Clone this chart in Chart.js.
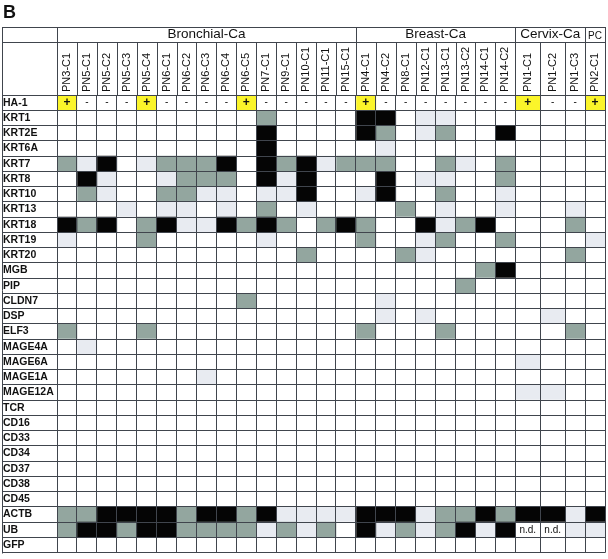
<!DOCTYPE html>
<html>
<head>
<meta charset="utf-8">
<script src="https://cdn.jsdelivr.net/npm/chart.js@4.4.0/dist/chart.umd.min.js"></script>
<style>
  html, body { margin: 0; padding: 0; background: #fff; }
  #wrap { width: 608px; height: 559px; }
</style>
</head>
<body>
<div id="wrap"><canvas id="chart" width="608" height="559"></canvas></div>
<script>
// samples (columns) and tumour groups
const samples = ['PN3-C1', 'PN5-C1', 'PN5-C2', 'PN5-C3', 'PN5-C4', 'PN6-C1', 'PN6-C2', 'PN6-C3', 'PN6-C4', 'PN6-C5',
  'PN7-C1', 'PN9-C1', 'PN10-C1', 'PN11-C1', 'PN15-C1',
  'PN4-C1', 'PN4-C2', 'PN8-C1', 'PN12-C1', 'PN13-C1', 'PN13-C2', 'PN14-C1', 'PN14-C2',
  'PN1-C1', 'PN1-C2', 'PN1-C3', 'PN2-C1'];
const groups = ['Bronchial-Ca', 'Breast-Ca', 'Cervix-Ca', 'PC'];
const groupSizes = [15, 8, 3, 1];

// HA-1: 1 = "+", 0 = "-"
const ha1 = [1, 0, 0, 0, 1, 0, 0, 0, 0, 1, 0, 0, 0, 0, 0, 1, 0, 0, 0, 0, 0, 0, 0, 1, 0, 0, 1];

const genes = ['KRT1', 'KRT2E', 'KRT6A', 'KRT7', 'KRT8', 'KRT10', 'KRT13', 'KRT18', 'KRT19', 'KRT20',
  'MGB', 'PIP', 'CLDN7', 'DSP', 'ELF3', 'MAGE4A', 'MAGE6A', 'MAGE1A', 'MAGE12A',
  'TCR', 'CD16', 'CD33', 'CD34', 'CD37', 'CD38', 'CD45', 'ACTB', 'UB', 'GFP'];

// expression level: 0 none, 1 weak, 2 medium, 3 strong, null = n.d.
const krt1   = [0,0,0,0,0,0,0,0,0,0,2,0,0,0,0, 3,3,0,1,1,0,0,0, 0,0,0, 0];
const krt2e  = [0,0,0,0,0,0,0,0,0,0,3,0,0,0,0, 3,2,0,1,2,0,0,3, 0,0,0, 0];
const krt6a  = [0,0,0,0,0,0,0,0,0,0,3,0,0,0,0, 0,1,0,0,0,0,0,0, 0,0,0, 0];
const krt7   = [2,1,3,0,1,2,2,2,3,0,3,2,3,1,2, 2,2,0,0,2,1,0,2, 0,0,0, 0];
const krt8   = [0,3,1,0,0,1,2,2,2,0,3,1,3,0,0, 0,3,0,1,1,0,0,2, 0,0,0, 0];
const krt10  = [0,2,1,0,0,2,2,1,1,0,1,1,3,0,0, 1,3,0,0,2,0,0,1, 0,0,0, 0];
const krt13  = [0,0,0,1,0,1,1,0,1,0,2,0,1,0,0, 0,0,2,0,1,0,0,1, 0,0,1, 0];
const krt18  = [3,2,3,0,2,3,1,1,3,2,3,2,0,2,3, 2,0,0,3,1,2,3,0, 0,0,2, 0];
const krt19  = [1,0,0,0,2,0,0,0,0,0,1,0,0,0,0, 2,0,0,1,2,0,0,2, 0,0,0, 1];
const krt20  = [0,0,0,0,0,0,0,0,0,0,0,0,2,0,0, 0,0,2,1,0,0,0,0, 0,0,2, 0];
const mgb    = [0,0,0,0,0,0,0,0,0,0,0,0,0,0,0, 0,0,0,0,0,0,2,3, 0,0,0, 0];
const pip    = [0,0,0,0,0,0,0,0,0,0,0,0,0,0,0, 0,0,0,0,0,2,0,0, 0,0,0, 0];
const cldn7  = [0,0,0,0,0,0,0,0,0,2,0,0,0,0,0, 0,1,0,0,0,0,0,0, 0,0,0, 0];
const dsp    = [0,0,0,0,0,0,0,0,0,0,0,0,0,0,0, 0,1,0,1,0,0,0,0, 0,1,0, 0];
const elf3   = [2,0,0,0,2,0,0,0,0,0,0,0,0,0,0, 2,0,0,0,2,0,0,0, 0,0,2, 0];
const mage4a = [0,1,0,0,0,0,0,0,0,0,0,0,0,0,0, 0,0,0,0,0,0,0,0, 0,0,0, 0];
const mage6a = [0,0,0,0,0,0,0,0,0,0,0,0,0,0,0, 0,0,0,0,0,0,0,0, 1,0,0, 0];
const mage1a = [0,0,0,0,0,0,0,1,0,0,0,0,0,0,0, 0,0,0,0,0,0,0,0, 0,0,0, 0];
const mage12a= [0,0,0,0,0,0,0,0,0,0,0,0,0,0,0, 0,0,0,0,0,0,0,0, 1,1,0, 0];
const tcr    = [0,0,0,0,0,0,0,0,0,0,0,0,0,0,0, 0,0,0,0,0,0,0,0, 0,0,0, 0];
const cd16   = [0,0,0,0,0,0,0,0,0,0,0,0,0,0,0, 0,0,0,0,0,0,0,0, 0,0,0, 0];
const cd33   = [0,0,0,0,0,0,0,0,0,0,0,0,0,0,0, 0,0,0,0,0,0,0,0, 0,0,0, 0];
const cd34   = [0,0,0,0,0,0,0,0,0,0,0,0,0,0,0, 0,0,0,0,0,0,0,0, 0,0,0, 0];
const cd37   = [0,0,0,0,0,0,0,0,0,0,0,0,0,0,0, 0,0,0,0,0,0,0,0, 0,0,0, 0];
const cd38   = [0,0,0,0,0,0,0,0,0,0,0,0,0,0,0, 0,0,0,0,0,0,0,0, 0,0,0, 0];
const cd45   = [0,0,0,0,0,0,0,0,0,0,0,0,0,0,0, 0,0,0,0,0,0,0,0, 0,0,0, 0];
const actb   = [2,2,3,3,3,3,2,3,3,2,3,1,1,1,1, 3,3,3,1,2,2,3,2, 3,3,1, 3];
const ub     = [2,3,3,2,3,3,2,2,2,2,1,2,1,2,0, 3,1,2,1,2,3,1,3, null,null,1, 1];
const gfp    = [0,0,0,0,0,0,0,0,0,0,0,0,0,0,0, 0,0,0,0,0,0,0,0, 0,0,0, 0];

const levels = [krt1, krt2e, krt6a, krt7, krt8, krt10, krt13, krt18, krt19, krt20,
  mgb, pip, cldn7, dsp, elf3, mage4a, mage6a, mage1a, mage12a,
  tcr, cd16, cd33, cd34, cd37, cd38, cd45, actb, ub, gfp];

// layout: column widths (cervix columns are a bit wider)
const colWidths = Array(23).fill(20).concat([25, 25, 20, 20]);
const edges = [0];
colWidths.forEach(w => edges.push(edges[edges.length - 1] + w));
const total = edges[edges.length - 1];
const centers = colWidths.map((w, i) => edges[i] + w / 2);
let acc = 0;
const groupCols = groupSizes.map(n => { const s = acc; acc += n; return [s, acc]; });
const groupCenters = groupCols.map(([a, b]) => (edges[a] + edges[b]) / 2);
const groupBounds = [0].concat(groupCols.map(([a, b]) => edges[b]));

const levelColors = ['#ffffff', '#e8ebf1', '#93a69f', '#050505'];
const yellow = '#fbf52a';
const lineColor = '#40454d';
const rowLabels = ['HA-1'].concat(genes);
const sampleFont = 11;

Chart.defaults.font.family = '"Liberation Sans", Arial, sans-serif';
Chart.defaults.color = '#111';

const datasets = samples.map((s, c) => ({
  label: s,
  data: rowLabels.map(() => [edges[c], edges[c + 1]]),
  backgroundColor: rowLabels.map((g, r) => {
    if (r === 0) return ha1[c] ? yellow : '#ffffff';
    const v = levels[r - 1][c];
    return v == null ? '#ffffff' : levelColors[v];
  }),
  borderWidth: 0,
  grouped: false,
  barPercentage: 1,
  categoryPercentage: 1
}));

const cellText = {
  id: 'cellText',
  afterDatasetsDraw(chart) {
    const { ctx, scales: { x, y } } = chart;
    ctx.save();
    ctx.fillStyle = '#111';
    ctx.textAlign = 'center';
    ctx.textBaseline = 'middle';
    const yHa = y.getPixelForValue(0);
    ha1.forEach((v, c) => {
      const cx = x.getPixelForValue(centers[c]);
      ctx.font = v ? 'bold 12px "Liberation Sans", Arial' : '10px "Liberation Sans", Arial';
      ctx.fillText(v ? '+' : '-', cx, yHa);
    });
    ctx.font = '10px "Liberation Sans", Arial';
    levels.forEach((row, r) => {
      row.forEach((v, c) => {
        if (v == null) ctx.fillText('n.d.', x.getPixelForValue(centers[c]), y.getPixelForValue(r + 1));
      });
    });
    ctx.restore();
  }
};

const headerLines = {
  id: 'headerLines',
  afterDraw(chart) {
    const { ctx, chartArea, scales: { x, xGroup } } = chart;
    const a = v => Math.round(v) + 0.5;
    ctx.save();
    ctx.strokeStyle = lineColor;
    ctx.lineWidth = 1;
    ctx.beginPath();
    const left = 2;
    [xGroup.top, xGroup.bottom].forEach(yy => {
      ctx.moveTo(left, a(yy));
      ctx.lineTo(x.getPixelForValue(total) + 1, a(yy));
    });
    ctx.moveTo(a(left), a(xGroup.top));
    ctx.lineTo(a(left), a(chartArea.bottom));
    edges.forEach(e => {
      const px = a(x.getPixelForValue(e));
      ctx.moveTo(px, a(xGroup.bottom));
      ctx.lineTo(px, a(chartArea.top));
    });
    groupBounds.forEach(e => {
      const px = a(x.getPixelForValue(e));
      ctx.moveTo(px, a(xGroup.top));
      ctx.lineTo(px, a(xGroup.bottom));
    });
    ctx.stroke();
    ctx.restore();
  }
};

const xTicks = edges.concat(centers).sort((p, q) => p - q);

new Chart(document.getElementById('chart'), {
  type: 'bar',
  data: { labels: rowLabels, datasets },
  options: {
    indexAxis: 'y',
    responsive: false,
    animation: false,
    events: [],
    layout: { padding: { left: 3, right: 0, top: 0, bottom: 1 } },
    plugins: {
      legend: { display: false },
      tooltip: { enabled: false },
      title: {
        display: true,
        text: 'B',
        align: 'start',
        font: { size: 18, weight: 'bold' },
        color: '#111',
        padding: { top: 2, bottom: 3.4 }
      }
    },
    scales: {
      x: {
        type: 'linear',
        position: 'top',
        min: 0,
        max: total,
        afterBuildTicks: s => { s.ticks = xTicks.map(v => ({ value: v })); },
        afterFit: s => { s.height = 53; },
        grid: {
          z: 1,
          color: ctx => (ctx.tick && edges.includes(ctx.tick.value)) ? lineColor : 'rgba(0,0,0,0)',
          drawTicks: false,
          lineWidth: 1
        },
        border: { display: true, color: lineColor, z: 1 },
        ticks: {
          autoSkip: false,
          minRotation: 90,
          maxRotation: 90,
          padding: 3,
          labelOffset: sampleFont * 1.2,
          font: { size: sampleFont },
          color: '#111',
          callback: v => { const i = centers.indexOf(v); return i >= 0 ? samples[i] : ''; }
        }
      },
      xGroup: {
        type: 'linear',
        position: 'top',
        weight: 10,
        min: 0,
        max: total,
        afterBuildTicks: s => { s.ticks = groupCenters.map(v => ({ value: v })); },
        afterFit: s => { s.height = 15; },
        grid: { display: false, drawTicks: false },
        border: { display: false },
        ticks: {
          autoSkip: false,
          minRotation: 0,
          maxRotation: 0,
          padding: 0,
          color: '#111',
          font: ctx => ({ size: (ctx.tick && ctx.tick.value === groupCenters[3]) ? 10 : 13.5 }),
          callback: v => groups[groupCenters.indexOf(v)]
        }
      },
      y: {
        type: 'category',
        position: 'left',
        afterFit: s => { s.width = 54; },
        grid: { z: 1, color: lineColor, tickLength: 55, offset: true, lineWidth: 1 },
        border: { display: false },
        ticks: {
          autoSkip: false,
          crossAlign: 'far',
          padding: 0,
          color: '#111',
          font: { size: 10.5, weight: 'bold' }
        }
      }
    }
  },
  plugins: [cellText, headerLines]
});
</script>
</body>
</html>
